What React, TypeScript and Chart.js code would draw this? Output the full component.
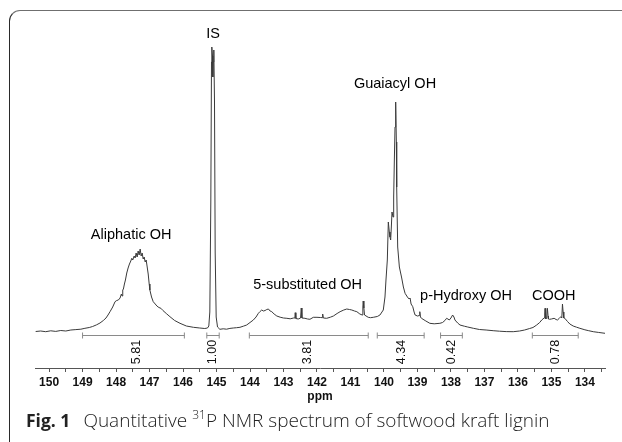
import React, { useEffect, useRef } from "react";
import { Chart, registerables } from "chart.js";

Chart.register(...registerables);

// Spectrum: chemical shift (ppm) and signal intensity (arbitrary units)
const ppmValues: number[] = [
  150.4, 150.25, 150.1, 149.95, 149.8, 149.65, 149.5, 149.35, 149.2, 149.05,
  148.93, 148.8, 148.7, 148.58, 148.48, 148.38, 148.3, 148.24, 148.18, 148.1,
  148.03, 147.98, 147.93, 147.88, 147.84, 147.82, 147.8, 147.78, 147.75, 147.72,
  147.68, 147.64, 147.6, 147.56, 147.53, 147.5, 147.46, 147.43, 147.4, 147.37,
  147.34, 147.31, 147.28, 147.25, 147.22, 147.19, 147.16, 147.13, 147.1, 147.07,
  147.04, 147.01, 146.99, 146.94, 146.89, 146.83, 146.78, 146.72, 146.66, 146.6,
  146.5, 146.39, 146.25, 146.09, 145.9, 145.69, 145.5, 145.35, 145.27, 145.23,
  145.2, 145.17, 145.15, 145.14, 145.12, 145.11, 145.1, 145.08, 145.06, 145.04,
  145.01, 144.97, 144.9, 144.8, 144.7, 144.6, 144.5, 144.4, 144.3, 144.2,
  144.1, 144.0, 143.9, 143.82, 143.75, 143.7, 143.65, 143.6, 143.55, 143.5,
  143.45, 143.4, 143.35, 143.28, 143.2, 143.1, 143.0, 142.9, 142.8, 142.7,
  142.66, 142.65, 142.63, 142.56, 142.49, 142.47, 142.45, 142.36, 142.28, 142.21,
  142.11, 142.0, 141.9, 141.84, 141.83, 141.81, 141.71, 141.6, 141.51, 141.4,
  141.31, 141.2, 141.11, 141.03, 140.96, 140.88, 140.81, 140.72, 140.65, 140.63,
  140.62, 140.6, 140.58, 140.47, 140.4, 140.32, 140.2, 140.12, 140.02, 139.97,
  139.94, 139.9, 139.87, 139.84, 139.82, 139.8, 139.78, 139.76, 139.73, 139.71,
  139.69, 139.67, 139.65, 139.63, 139.62, 139.59, 139.54, 139.47, 139.42, 139.37,
  139.3, 139.25, 139.22, 139.19, 139.14, 139.1, 139.07, 139.0, 138.94, 138.93,
  138.91, 138.88, 138.75, 138.63, 138.5, 138.33, 138.25, 138.18, 138.13, 138.09,
  138.05, 138.0, 137.95, 137.91, 137.88, 137.8, 137.73, 137.6, 137.5, 137.33,
  137.15, 136.95, 136.74, 136.55, 136.35, 136.14, 135.95, 135.8, 135.65, 135.55,
  135.44, 135.35, 135.29, 135.22, 135.2, 135.19, 135.17, 135.14, 135.12, 135.1,
  135.09, 135.06, 135.0, 134.92, 134.86, 134.82, 134.77, 134.72, 134.69, 134.67,
  134.65, 134.63, 134.6, 134.52, 134.45, 134.35, 134.25, 134.15, 134.0, 133.9,
  133.75, 133.6, 133.4,
];

const intensityValues: number[] = [
  0.5, 1.0, 0.3, 1.2, 0.6, 1.5, 1.0, 2.0, 2.4, 2.8,
  3.7, 4.5, 5.5, 7.2, 9.0, 11.5, 14.0, 17.0, 20.3, 25.0,
  30.3, 31.5, 32.0, 34.0, 38.0, 36.0, 42.0, 43.0, 48.0, 52.0,
  59.0, 64.0, 68.0, 71.0, 73.7, 72.0, 76.0, 74.0, 79.0, 75.0,
  81.0, 77.0, 83.0, 76.0, 79.0, 73.0, 75.0, 70.0, 72.0, 65.0,
  58.0, 48.0, 42.0, 35.0, 30.3, 28.0, 26.0, 24.5, 23.7, 21.5,
  18.5, 15.3, 11.5, 8.7, 6.0, 4.7, 4.0, 3.5, 4.0, 6.0,
  20, 130, 270, 285, 276, 255, 270, 282, 230, 80,
  15, 5, 2.7, 3.2, 2.8, 3.6, 4.0, 4.3, 4.7, 5.8,
  7.0, 9.5, 12.0, 15.0, 18.7, 20.5, 22.0, 21.0, 21.5, 22.5,
  23.0, 21.0, 20.3, 18.0, 16.0, 14.8, 14.0, 13.7, 13.2, 14.0,
  14.0, 19.3, 13.5, 13.0, 14.0, 24.0, 14.0, 13.7, 13.0, 12.7,
  14.7, 14.7, 14.5, 14.3, 18.0, 14.0, 13.7, 14.8, 16.0, 18.5,
  20.3, 22.0, 23.0, 22.5, 22.0, 21.0, 20.3, 18.0, 17.0, 25.0,
  31.0, 24.0, 17.0, 14.7, 14.3, 14.7, 15.5, 17.0, 22.0, 35.0,
  52.0, 72.0, 110, 100, 95, 92, 105, 120, 115, 135,
  172, 205, 230, 190, 145, 85, 65, 54, 45, 38.7,
  35, 33, 34, 28, 25.3, 20, 17, 16, 16.5, 20.3,
  15, 13.7, 11, 8.7, 8.2, 8.7, 9.5, 11.5, 13.7, 13.0,
  12.0, 14.0, 17.0, 15.0, 12.0, 9.0, 7.0, 5.8, 5.0, 3.7,
  2.5, 2.0, 1.3, 0.8, 0.4, 0.3, 1.0, 2.0, 3.5, 4.5,
  7.0, 9.5, 12.0, 14.0, 18, 23.7, 13.0, 14.0, 23.7, 16,
  13.0, 12.7, 13.0, 13.7, 12.5, 12.0, 13.5, 15.3, 14.0, 28.0,
  20, 14.0, 13.7, 10.5, 8.0, 6.0, 4.8, 3.7, 2.2, 1.4,
  0.3, -0.4, -1.3,
];

// Axis ticks
const majorTicks: number[] = [150, 149, 148, 147, 146, 145, 144, 143, 142, 141, 140, 139, 138, 137, 136, 135, 134];
const minorTicks: number[] = [149.5, 148.5, 147.5, 146.5, 145.5, 144.5, 143.5, 142.5, 141.5, 140.5, 139.5, 138.5, 137.5, 136.5, 135.5, 134.5, 133.5];
const axisTitle = "ppm";

// Integration regions
const integralFrom: number[] = [149.0, 145.29, 144.02, 140.2, 138.31, 135.57];
const integralTo: number[] = [145.96, 144.92, 140.47, 138.8, 137.66, 134.2];
const integralLabels: string[] = ["5.81", "1.00", "3.81", "4.34", "0.42", "0.78"];
const integralLabelPpm: number[] = [147.4, 145.11, 142.27, 139.47, 137.98, 134.87];

// Peak annotations
const peakLabels: string[] = ["Aliphatic OH", "IS", "5-substituted OH", "Guaiacyl OH", "p-Hydroxy OH", "COOH"];
const peakLabelPpm: number[] = [147.55, 145.1, 142.28, 139.67, 137.55, 134.93];
const peakLabelHeight: number[] = [97, 298, 47, 248, 36, 36];

const annotationPlugin = {
  id: "nmrAnnotations",
  afterDatasetsDraw(chart: any) {
    const { ctx, scales } = chart;
    const xs = scales.x;
    const ys = scales.y;
    ctx.save();
    // integration brackets
    const by = Math.round(ys.getPixelForValue(-3)) + 0.5;
    ctx.strokeStyle = "#8a8a8a";
    ctx.lineWidth = 1;
    for (let i = 0; i < integralFrom.length; i++) {
      const x1 = xs.getPixelForValue(integralFrom[i]);
      const x2 = xs.getPixelForValue(integralTo[i]);
      ctx.beginPath();
      ctx.moveTo(x1, by);
      ctx.lineTo(x2, by);
      ctx.moveTo(x1, by - 3);
      ctx.lineTo(x1, by + 3);
      ctx.moveTo(x2, by - 3);
      ctx.lineTo(x2, by + 3);
      ctx.stroke();
    }
    // integral values (rotated)
    ctx.fillStyle = "#111";
    ctx.font = "12.5px 'Liberation Sans', Arial, sans-serif";
    ctx.textAlign = "center";
    ctx.textBaseline = "middle";
    const ly = ys.getPixelForValue(-20);
    for (let i = 0; i < integralLabels.length; i++) {
      const lx = xs.getPixelForValue(integralLabelPpm[i]);
      ctx.save();
      ctx.translate(lx, ly);
      ctx.rotate(-Math.PI / 2);
      ctx.fillText(integralLabels[i], 0, 0);
      ctx.restore();
    }
    // peak labels
    ctx.fillStyle = "#000";
    ctx.font = "14.5px 'Liberation Sans', Arial, sans-serif";
    for (let i = 0; i < peakLabels.length; i++) {
      ctx.fillText(peakLabels[i], xs.getPixelForValue(peakLabelPpm[i]), ys.getPixelForValue(peakLabelHeight[i]));
    }
    ctx.restore();
  },
};

export default function App() {
  const canvasRef = useRef<HTMLCanvasElement | null>(null);

  useEffect(() => {
    if (!canvasRef.current) return;
    const points = ppmValues.map((p, i) => ({ x: p, y: intensityValues[i] }));
    const allTicks = [...majorTicks, ...minorTicks].sort((a, b) => b - a);
    const chart = new Chart(canvasRef.current, {
      type: "line",
      data: {
        datasets: [
          {
            data: points,
            borderColor: "#3a3a3a",
            borderWidth: 1,
            pointRadius: 0,
            tension: 0,
            fill: false,
          },
        ],
      },
      options: {
        animation: false,
        responsive: false,
        devicePixelRatio: 1,
        layout: { padding: { left: 35, right: 17, top: 40, bottom: 30 } },
        plugins: { legend: { display: false }, tooltip: { enabled: false } },
        scales: {
          x: {
            type: "linear",
            reverse: true,
            min: 133.4,
            max: 150.42,
            afterBuildTicks: (scale: any) => {
              scale.ticks = allTicks.map((v) => ({ value: v }));
            },
            afterFit: (scale: any) => {
              scale.height = 44;
            },
            border: { display: true, color: "#555", width: 1 },
            grid: { drawOnChartArea: false, drawTicks: true, tickLength: 4, color: "#555" },
            ticks: {
              autoSkip: false,
              maxRotation: 0,
              padding: 3,
              color: "#111",
              font: { family: "'Liberation Sans', Arial, sans-serif", size: 12, weight: "bold" },
              callback: (v: any) => (majorTicks.includes(Number(v)) ? String(v) : ""),
            },
            title: {
              display: true,
              text: axisTitle,
              color: "#111",
              padding: { top: 0, bottom: 8 },
              font: { family: "'Liberation Sans', Arial, sans-serif", size: 12, weight: "bold" },
            },
          },
          y: {
            display: false,
            min: -36,
            max: 292,
          },
        },
      },
      plugins: [annotationPlugin],
    });
    return () => chart.destroy();
  }, []);

  return (
    <div style={{ position: "fixed", left: 0, top: 0, width: 622, height: 442, background: "#fff", overflow: "hidden" }}>
      <div
        style={{
          position: "absolute",
          left: 9,
          top: 10,
          width: 700,
          height: 500,
          borderTop: "1.5px solid #6f6f6f",
          borderLeft: "1.5px solid #2a2a2a",
          borderTopLeftRadius: 11,
          boxSizing: "border-box",
        }}
      />
      <canvas ref={canvasRef} width={622} height={442} style={{ position: "absolute", left: 0, top: 0, width: 622, height: 442 }} />
      <div
        style={{
          position: "absolute",
          left: 26,
          top: 409,
          fontFamily: "'Open Sans', sans-serif",
          fontSize: 18.5,
          lineHeight: "22px",
          color: "#222",
          whiteSpace: "nowrap",
        }}
      >
        <span style={{ fontWeight: 700, fontSize: 17.5 }}>Fig. 1</span>
        <span style={{ marginLeft: 13, fontWeight: 300, fontSize: 19 }}>Quantitative </span>
        <span style={{ fontSize: 12, position: "relative", top: -8, fontWeight: 300 }}>31</span>
        <span style={{ fontWeight: 300, fontSize: 19 }}>P NMR spectrum of softwood kraft lignin</span>
      </div>
    </div>
  );
}
